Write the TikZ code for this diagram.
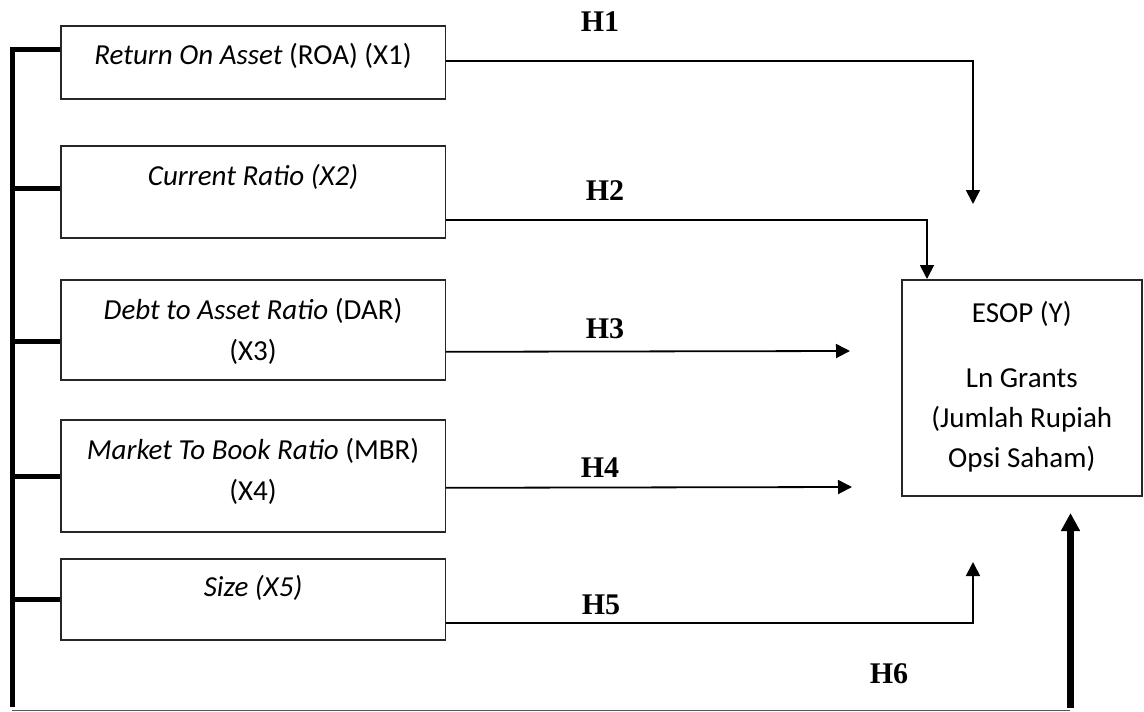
\documentclass[tikz,border=0pt]{standalone}
\usepackage{fontspec}
\setmainfont{Carlito}
\newfontfamily\hfont{Liberation Serif}
\usetikzlibrary{arrows.meta}
\begin{document}
\begin{tikzpicture}[x=1pt,y=-1pt,
  box/.style={draw=black!85, line width=1.6pt, inner sep=0pt, anchor=north west, minimum width=384.5pt},
  txt/.style={inner sep=0pt, anchor=base, font=\fontsize{29}{41}\selectfont},
  hlab/.style={inner sep=0pt, anchor=base, font=\hfont\bfseries\fontsize{30}{36}\selectfont},
  conn/.style={line width=1.8pt, -{Triangle[length=14pt,width=14pt]}},
  spine/.style={line width=5pt, line join=miter},
  bigarr/.style={line width=6.5pt, -{Triangle[length=18pt,width=18pt]}},
  baseline/.style={line width=1.4pt, draw=black!65}]
\useasboundingbox (0,0) rectangle (1144,712);

% boxes
\node[box, minimum height=73pt]  (b1) at (60,25) {};
\node[box, minimum height=92pt]  (b2) at (60,145) {};
\node[box, minimum height=100pt] (b3) at (60,279) {};
\node[box, minimum height=112pt] (b4) at (60,419) {};
\node[box, minimum height=81pt]  (b5) at (60,558) {};
\node[box, minimum width=240pt, minimum height=216pt] (esop) at (901,279) {};

% box texts
\node[txt] (t1) at ([yshift=-39pt]b1.north) {\textit{Return On Asset} (ROA) (X1)};
\node[txt] (t2) at ([yshift=-40pt]b2.north) {\textit{Current Ratio (X2)}};
\node[txt] (t3) at ([yshift=-40pt]b3.north) {\begin{tabular}[t]{@{}c@{}}\textit{Debt to Asset Ratio} (DAR)\\(X3)\end{tabular}};
\node[txt] (t4) at ([yshift=-40pt]b4.north) {\begin{tabular}[t]{@{}c@{}}\textit{Market To Book Ratio} (MBR)\\(X4)\end{tabular}};
\node[txt] (t5) at ([yshift=-38pt]b5.north) {\textit{Size (X5)}};
\node[txt, font=\fontsize{29}{40}\selectfont] (ty) at ([yshift=-43pt]esop.north) {\begin{tabular}[t]{@{}c@{}}ESOP (Y)\\[25pt]Ln Grants\\(Jumlah Rupiah\\Opsi Saham)\end{tabular}};

% hypothesis labels
\node[hlab] (h1) at (600,31) {H1};
\node[hlab] (h2) at (605,200) {H2};
\node[hlab] (h3) at (605,338) {H3};
\node[hlab] (h4) at (600,477) {H4};
\node[hlab] (h5) at (601,614) {H5};
\node[hlab] (h6) at (889,683) {H6};

% free ends
\coordinate (h1end) at (973,204);
\coordinate (h3end) at (850,351);
\coordinate (h4end) at (852,487);
\coordinate (h5end) at (973,562);
\coordinate (spbot) at (12.5,706.7);
\coordinate (blL) at (12,710.7);
\coordinate (blR) at (1070,710.7);
\coordinate (h6start) at (1070.5,708);
\coordinate (h6end) at (1070.5,513);

% connectors
\draw[conn] ([yshift=1.5pt]b1.east) -| (h1end);
\draw[conn] ([yshift=19pt]b2.south east) -| ([xshift=26pt]esop.north west);
\draw[conn] ([yshift=-22pt]b3.east) -- (h3end);
\draw[conn] ([yshift=-12pt]b4.east) -- (h4end);
\draw[conn] ([yshift=18pt]b5.south east) -| (h5end);

% left bracket
\draw[spine] ([yshift=12.5pt]b1.west) -| (spbot);
\draw[spine] ([yshift=3pt]b2.west) -- ++(-47.5,0);
\draw[spine] ([yshift=-12pt]b3.west) -- ++(-47.5,0);
\draw[spine] ([yshift=-1pt]b4.west) -- ++(-47.5,0);
\draw[spine] (b5.west) -- ++(-47.5,0);

% bottom line and H6 arrow
\draw[baseline] (blL) -- (blR);
\draw[bigarr] (h6start) -- (h6end);
\end{tikzpicture}
\end{document}
